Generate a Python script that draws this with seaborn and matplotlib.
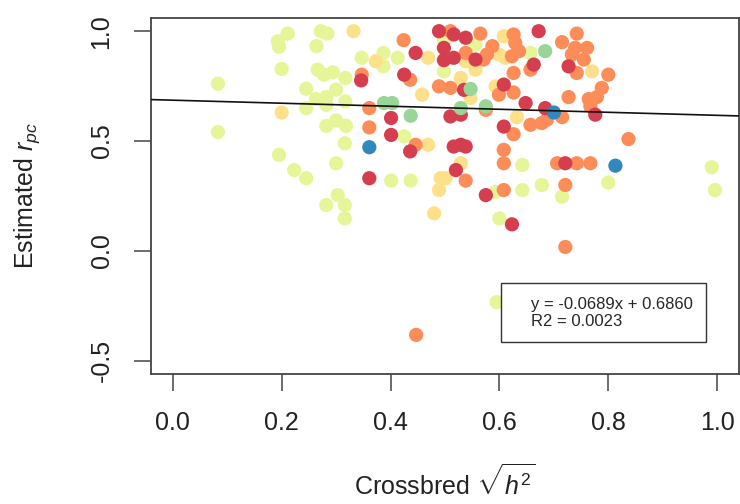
import pandas as pd
import seaborn as sns
import matplotlib.pyplot as plt
from matplotlib.lines import Line2D

# points, one pair of lists per colour group
pale_x = [0.083, 0.083, 0.211, 0.193, 0.195, 0.272, 0.284, 0.264, 0.200, 0.266,
          0.278, 0.294, 0.317, 0.245, 0.300, 0.282, 0.263, 0.317, 0.245, 0.282,
          0.282, 0.300, 0.318, 0.316, 0.195, 0.223, 0.245, 0.300, 0.303, 0.282,
          0.316, 0.316, 0.347, 0.387, 0.387, 0.413, 0.425, 0.401, 0.437, 0.498,
          0.498, 0.556, 0.657, 0.642, 0.642, 0.678, 0.593, 0.715, 0.800, 0.990,
          0.996, 0.600, 0.595]
pale_y = [0.761, 0.541, 0.989, 0.954, 0.929, 1.000, 0.989, 0.932, 0.828, 0.825,
          0.802, 0.813, 0.787, 0.738, 0.734, 0.700, 0.691, 0.680, 0.650, 0.665,
          0.569, 0.594, 0.569, 0.490, 0.437, 0.368, 0.331, 0.399, 0.254, 0.209,
          0.209, 0.148, 0.879, 0.901, 0.840, 0.879, 0.521, 0.320, 0.320, 0.959,
          0.817, 0.939, 0.901, 0.391, 0.277, 0.300, 0.269, 0.247, 0.311, 0.381,
          0.277, 0.148, -0.233]

yellow_x = [0.332, 0.373, 0.469, 0.458, 0.200, 0.469, 0.492, 0.489, 0.501, 0.608,
            0.599, 0.611, 0.538, 0.556, 0.529, 0.593, 0.547, 0.632, 0.770, 0.529,
            0.480]
yellow_y = [1.000, 0.863, 0.879, 0.711, 0.630, 0.483, 0.331, 0.277, 0.331, 0.977,
            0.894, 0.879, 0.863, 0.825, 0.787, 0.749, 0.696, 0.609, 0.817, 0.399,
            0.171]

orange_x = [0.424, 0.347, 0.436, 0.489, 0.361, 0.361, 0.446, 0.510, 0.565, 0.626,
            0.629, 0.636, 0.623, 0.587, 0.577, 0.571, 0.538, 0.715, 0.742, 0.739,
            0.761, 0.733, 0.755, 0.742, 0.626, 0.657, 0.800, 0.788, 0.779, 0.764,
            0.767, 0.727, 0.510, 0.575, 0.599, 0.626, 0.657, 0.678, 0.687, 0.715,
            0.626, 0.837, 0.608, 0.608, 0.706, 0.742, 0.767, 0.538, 0.608, 0.721,
            0.721, 0.447]
orange_y = [0.959, 0.802, 0.779, 0.749, 0.650, 0.562, 0.483, 1.000, 0.989, 0.985,
            0.947, 0.909, 0.886, 0.932, 0.894, 0.871, 0.901, 0.950, 0.989, 0.924,
            0.924, 0.894, 0.871, 0.810, 0.810, 0.825, 0.802, 0.742, 0.700, 0.691,
            0.658, 0.700, 0.742, 0.642, 0.711, 0.721, 0.574, 0.582, 0.597, 0.609,
            0.531, 0.509, 0.460, 0.399, 0.399, 0.399, 0.399, 0.320, 0.277, 0.300,
            0.018, -0.382]

red_x = [0.489, 0.516, 0.538, 0.498, 0.672, 0.498, 0.516, 0.556, 0.446, 0.346,
         0.425, 0.535, 0.608, 0.648, 0.684, 0.663, 0.727, 0.510, 0.529, 0.401,
         0.401, 0.436, 0.361, 0.608, 0.516, 0.529, 0.538, 0.520, 0.721, 0.575,
         0.776, 0.623]
red_y = [1.000, 0.985, 0.970, 0.924, 1.000, 0.868, 0.879, 0.871, 0.901, 0.776,
         0.802, 0.733, 0.757, 0.673, 0.650, 0.848, 0.840, 0.612, 0.620, 0.605,
         0.528, 0.453, 0.331, 0.566, 0.475, 0.483, 0.475, 0.368, 0.399, 0.254,
         0.620, 0.121]

green_x = [0.388, 0.403, 0.437, 0.684, 0.547, 0.529, 0.575]
green_y = [0.673, 0.673, 0.615, 0.909, 0.737, 0.650, 0.658]

blue_x = [0.361, 0.700, 0.813]
blue_y = [0.472, 0.630, 0.388]

slope = -0.0689
intercept = 0.6860
r2 = 0.0023

groups = {
    'g4': (pale_x, pale_y, '#E6F598'),
    'g3': (yellow_x, yellow_y, '#FEE08B'),
    'g2': (orange_x, orange_y, '#FC8D59'),
    'g1': (red_x, red_y, '#D53E4F'),
    'g5': (green_x, green_y, '#99D594'),
    'g6': (blue_x, blue_y, '#3288BD'),
}

frames = []
for name, (gx, gy, col) in groups.items():
    frames.append(pd.DataFrame({'h': gx, 'rpc': gy, 'grp': name}))
df = pd.concat(frames, ignore_index=True)
pal = {name: v[2] for name, v in groups.items()}

sns.set_theme(style='white')
plt.rcParams['font.family'] = ['Liberation Sans', 'DejaVu Sans']
plt.rcParams['mathtext.fontset'] = 'custom'
plt.rcParams['mathtext.rm'] = 'Liberation Sans'
plt.rcParams['mathtext.it'] = 'Liberation Sans:italic'
plt.rcParams['axes.unicode_minus'] = False

fig = plt.figure(figsize=(7.4, 5.04), dpi=100)
ax = fig.add_axes([151 / 740, 1 - 374 / 504, 588 / 740, 356 / 504])

sns.scatterplot(data=df, x='h', y='rpc', hue='grp', palette=pal, s=105,
                linewidth=0, legend=False, ax=ax, zorder=2)
ax.axline((0, intercept), slope=slope, color='#111111', lw=1.2, zorder=3)

ax.set_xlim(-0.04, 1.04)
ax.set_ylim(-0.56, 1.06)
ax.set_xticks([0.0, 0.2, 0.4, 0.6, 0.8, 1.0])
ax.set_yticks([-0.5, 0.0, 0.5, 1.0])

for s in ax.spines.values():
    s.set_color('#444444')
    s.set_linewidth(1.3)
ax.tick_params(direction='out', length=12, width=1.1, color='#444444',
               labelsize=18, labelcolor='#222222', pad=15,
               bottom=True, left=True)
ax.tick_params(axis='y', labelrotation=90)
for lab in ax.get_yticklabels():
    lab.set_va('center')

ax.set_xlabel(r'Crossbred $\sqrt{h^2}$', fontsize=18, color='#222222')
ax.set_ylabel(r'Estimated $r_{pc}$', fontsize=18, color='#222222')
ax.xaxis.set_label_coords(0.5, -0.252)
ax.yaxis.set_label_coords(-0.185, 0.5)

handles = [Line2D([], [], linestyle='none'), Line2D([], [], linestyle='none')]
labels = ['y = %.4fx + %.4f' % (slope, intercept), 'R2 = %.4f' % r2]
leg = ax.legend(handles, labels, loc='upper left', bbox_to_anchor=(0.5946, 0.2548),
                borderaxespad=0, fontsize=12, frameon=True, fancybox=False,
                framealpha=1, edgecolor='#333333', handlelength=0.6,
                handletextpad=0.4, borderpad=0.8, labelspacing=0.15)
leg.get_frame().set_linewidth(1.0)
leg.set_zorder(5)

plt.savefig('out.png', dpi=100)
